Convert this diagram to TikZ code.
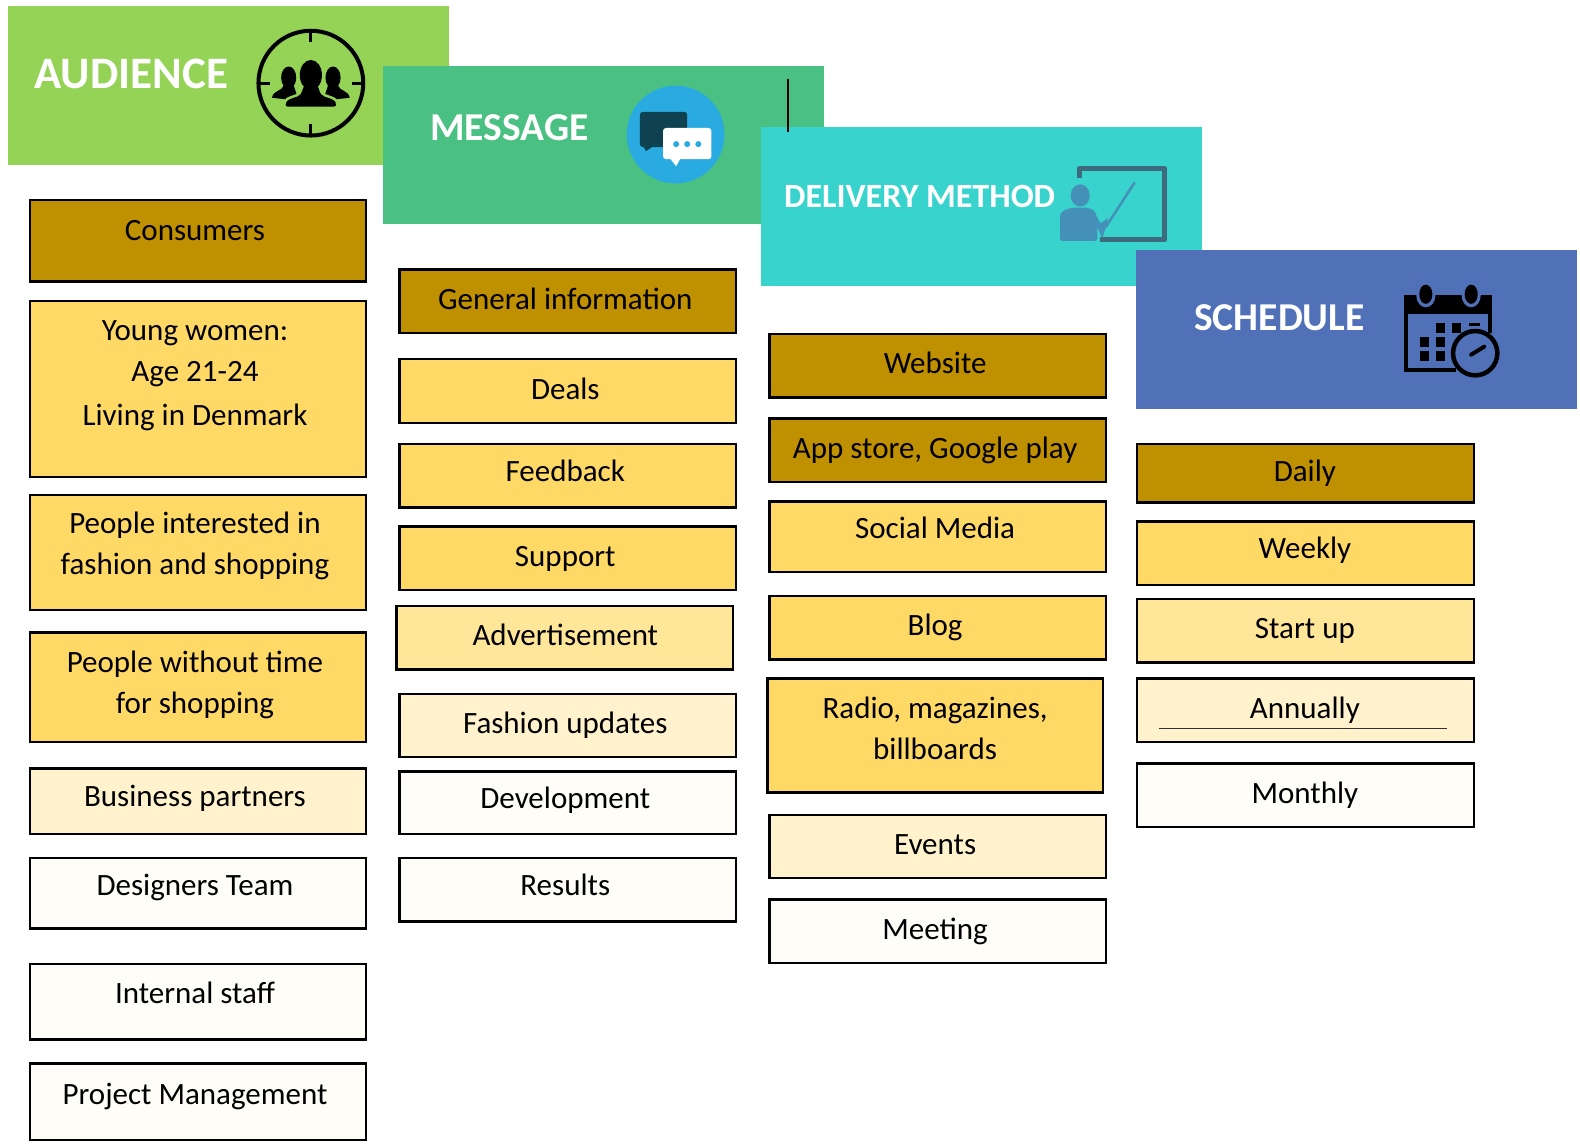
\documentclass[tikz,border=0pt]{standalone}
\usepackage{fontspec}
\setmainfont{Carlito}
\definecolor{cdark}{HTML}{BF9000}
\definecolor{cyel}{HTML}{FFD966}
\definecolor{cmid}{HTML}{FFE699}
\definecolor{clight}{HTML}{FFF2CC}
\definecolor{cpale}{HTML}{FFFDF8}
\definecolor{haud}{HTML}{94D355}
\definecolor{hmsg}{HTML}{4BC083}
\definecolor{hdel}{HTML}{38D3CD}
\definecolor{hsch}{HTML}{5070B8}
\definecolor{bubble}{HTML}{29ABE2}
\definecolor{bubdark}{HTML}{0F4250}
\definecolor{board}{HTML}{3E6A7E}
\definecolor{teacher}{HTML}{4490B8}
\tikzset{
  boxst/.style={draw=black,line width=2.4pt,inner sep=0pt,outer sep=0pt,anchor=north west},
  hdrbox/.style={inner sep=0pt,outer sep=0pt,anchor=north west},
  boxtxt/.style={inner sep=0pt,anchor=base,font=\fontsize{31}{34}\selectfont,text=black},
  hdrtxt/.style={inner sep=0pt,anchor=base west,text=white},
}
\newcommand\bx[6]{\node[boxst,fill=#6,minimum width={(#4-#2-1)*1.0077pt},minimum height={(#5-#3-1)*1.0077pt}] (#1) at (#2+.5,#3+.5) {};}
\newcommand\hd[6]{\node[hdrbox,fill=#6,minimum width={(#4-#2)*1.0077pt},minimum height={(#5-#3)*1.0077pt}] (#1) at (#2,#3) {};}
\newcommand\tx[4]{\node[boxtxt] (#1) at (#2,#3+1) {#4};}
\begin{document}
\begin{tikzpicture}[x=1.0077pt,y=-1.0077pt]
\useasboundingbox (0,0) rectangle (1568,1138.2);
% headers and icons
\hd{haudience}{8}{6}{446}{164}{haud}
\node[hdrtxt,font=\fontsize{45}{48}\bfseries\selectfont] (taudience) at (34,88) {AUDIENCE};
\draw[line width=4pt] (308.5,82.5) circle (52);
\foreach \a/\b/\c/\d in {308.5/30/308.5/42,308.5/123/308.5/135,256/82.5/268/82.5,349/82.5/361/82.5}
  \draw[line width=3pt] (\a,\b) -- (\c,\d);
\foreach \s in {-1,1}{
  \fill[black] (308.5+\s*22,77) ellipse (7.5 and 11);
  \fill[black] (308.5+\s*17,85) -- (308.5+\s*27,85) .. controls (308.5+\s*28,90) and (308.5+\s*38,90) .. (308.5+\s*38.5,97) -- (308.5+\s*12,100) -- cycle;
}
\fill[black,draw=haud,line width=2.5pt] (308.5,74.5) ellipse (11.5 and 15.5);
\fill[black,draw=haud,line width=2.5pt,rounded corners=3pt] (300,84) -- (317,84) -- (318,90) .. controls (322,96) and (332,96) .. (335,103) -- (335,107) -- (282,107) -- (282,103) .. controls (285,96) and (295,96) .. (299,90) -- cycle;
\fill[black] (308.5,74.5) ellipse (11 and 15);
%
\hd{hmessage}{380}{65}{818}{222}{hmsg}
\node[hdrtxt,font=\fontsize{39.5}{43}\bfseries\selectfont] (tmessage) at (427,139) {MESSAGE};
\fill[bubble] (670.5,133.5) circle (48.5);
\fill[bubdark,rounded corners=3pt] (635,111) rectangle (682,146);
\fill[bubdark] (638,144) -- (650,144) -- (641,150) -- cycle;
\fill[white,rounded corners=3pt] (658,127) rectangle (706,158);
\fill[white] (664,156) -- (676,156) -- (671,165) -- cycle;
\foreach \x in {671,682,693} \fill[bubble] (\x,143) circle (3);
%
\hd{hdelivery}{755}{126}{1193}{284}{hdel}
\node[hdrtxt,font=\fontsize{34}{37}\bfseries\selectfont] (tdelivery) at (778,206) {DELIVERY METHOD};
\draw[board,line width=5pt,line join=round] (1071,177) -- (1071,167) -- (1156,167) -- (1156,238) -- (1092,238);
\fill[teacher] (1072,194) ellipse (9.5 and 11);
\fill[teacher,rounded corners=2pt] (1052,239) -- (1052,215) .. controls (1053,209) and (1060,206) .. (1072,206) .. controls (1082,206) and (1086,208) .. (1088,214) -- (1092,222) -- (1100,216) -- (1094,237) -- (1089,225) -- (1089,239) -- cycle;
\draw[teacher,line width=2.5pt] (1126,181) -- (1097,226);
%
\hd{hschedule}{1127}{248}{1565}{406}{hsch}
\node[hdrtxt,font=\fontsize{39.5}{43}\bfseries\selectfont] (tschedule) at (1185,328) {SCHEDULE};
\fill[black] (1393,293) rectangle (1481,312);
\draw[black,line width=4pt] (1395,312) -- (1395,367) -- (1445,367);
\draw[black,line width=4pt] (1479,312) -- (1479,330);
\foreach \x in {1415,1460}{
  \fill[hsch] (\x,293) ellipse (9.5 and 12);
  \fill[black] (\x,292) ellipse (6.5 and 9.5);
}
\foreach \xa/\ya in {1425.4/320.8,1441.2/320.8,1409.5/334,1425.4/334,1409.5/348,1425.4/348}
  \fill[black] (\xa,\ya) rectangle +(9,10);
\fill[black] (1458,320.8) rectangle (1469,324);
\draw[black,line width=4.5pt,fill=hsch] (1464,350.5) circle (22);
\draw[black,line width=4pt,line cap=round] (1460,352) -- (1473,344);
\draw[black,line width=1.8pt] (782,78) -- (782,131);
% column 1
\bx{a1}{29}{198}{364}{280}{cdark}\tx{ta1}{193.5}{238}{Consumers}
\bx{a2}{29}{298}{364}{474}{cyel}\tx{ta2a}{193.5}{337}{Young women:}\tx{ta2b}{193.5}{378}{Age 21-24}\tx{ta2c}{193.5}{421}{Living in Denmark}
\bx{a3}{29}{491}{364}{606}{cyel}\tx{ta3a}{193.5}{528}{People interested in}\tx{ta3b}{193.5}{569}{fashion and shopping}
\bx{a4}{29}{627}{364}{737}{cyel}\tx{ta4a}{193.5}{666}{People without time}\tx{ta4b}{193.5}{707}{for shopping}
\bx{a5}{29}{762}{364}{828}{clight}\tx{ta5}{193.5}{799}{Business partners}
\bx{a6}{29}{851}{364}{922}{cpale}\tx{ta6}{193.5}{888}{Designers Team}
\bx{a7}{29}{956}{364}{1032}{cpale}\tx{ta7}{193.5}{995}{Internal staff}
\bx{a8}{29}{1055}{364}{1132}{cpale}\tx{ta8}{193.5}{1095}{Project Management}
% column 2
\bx{b1}{396}{267}{731}{331}{cdark}\tx{tb1}{561}{306}{General information}
\bx{b2}{396}{356}{731}{420}{cyel}\tx{tb2}{561}{395}{Deals}
\bx{b3}{396}{440}{731}{504}{cyel}\tx{tb3}{561}{477}{Feedback}
\bx{b4}{396}{522}{731}{586}{cyel}\tx{tb4}{561}{561}{Support}
\bx{b5}{393}{601}{728}{665}{cmid}\tx{tb5}{561}{640}{Advertisement}
\bx{b6}{396}{688}{731}{752}{clight}\tx{tb6}{561}{727}{Fashion updates}
\bx{b7}{396}{765}{731}{828}{cpale}\tx{tb7}{561}{801}{Development}
\bx{b8}{396}{851}{731}{915}{cpale}\tx{tb8}{561}{888}{Results}
% column 3
\bx{c1}{763}{331}{1098}{395}{cdark}\tx{tc1}{928}{370}{Website}
\bx{c2}{763}{415}{1098}{479}{cdark}\tx{tc2}{928}{454}{App store, Google play}
\bx{c3}{763}{497}{1098}{568}{cyel}\tx{tc3}{928}{533}{Social Media}
\bx{c4}{763}{591}{1098}{655}{cyel}\tx{tc4}{928}{630}{Blog}
\bx{c5}{761}{673}{1095}{787}{cyel}\tx{tc5a}{928}{712}{Radio, magazines,}\tx{tc5b}{928}{753}{billboards}
\bx{c6}{763}{808}{1098}{872}{clight}\tx{tc6}{928}{847}{Events}
\bx{c7}{763}{892}{1098}{956}{cpale}\tx{tc7}{928}{931}{Meeting}
% column 4
\bx{d1}{1128}{440}{1463}{499}{cdark}\tx{td1}{1295}{477}{Daily}
\bx{d2}{1128}{517}{1463}{581}{cyel}\tx{td2}{1295}{553}{Weekly}
\bx{d3}{1128}{594}{1463}{658}{cmid}\tx{td3}{1295}{633}{Start up}
\bx{d4}{1128}{673}{1463}{737}{clight}\tx{td4}{1295}{712}{Annually}
\bx{d5}{1128}{757}{1463}{821}{cpale}\tx{td5}{1295}{796}{Monthly}
\draw[black!80,line width=0.8pt] (1150,723) -- (1436,723);
\end{tikzpicture}
\end{document}
